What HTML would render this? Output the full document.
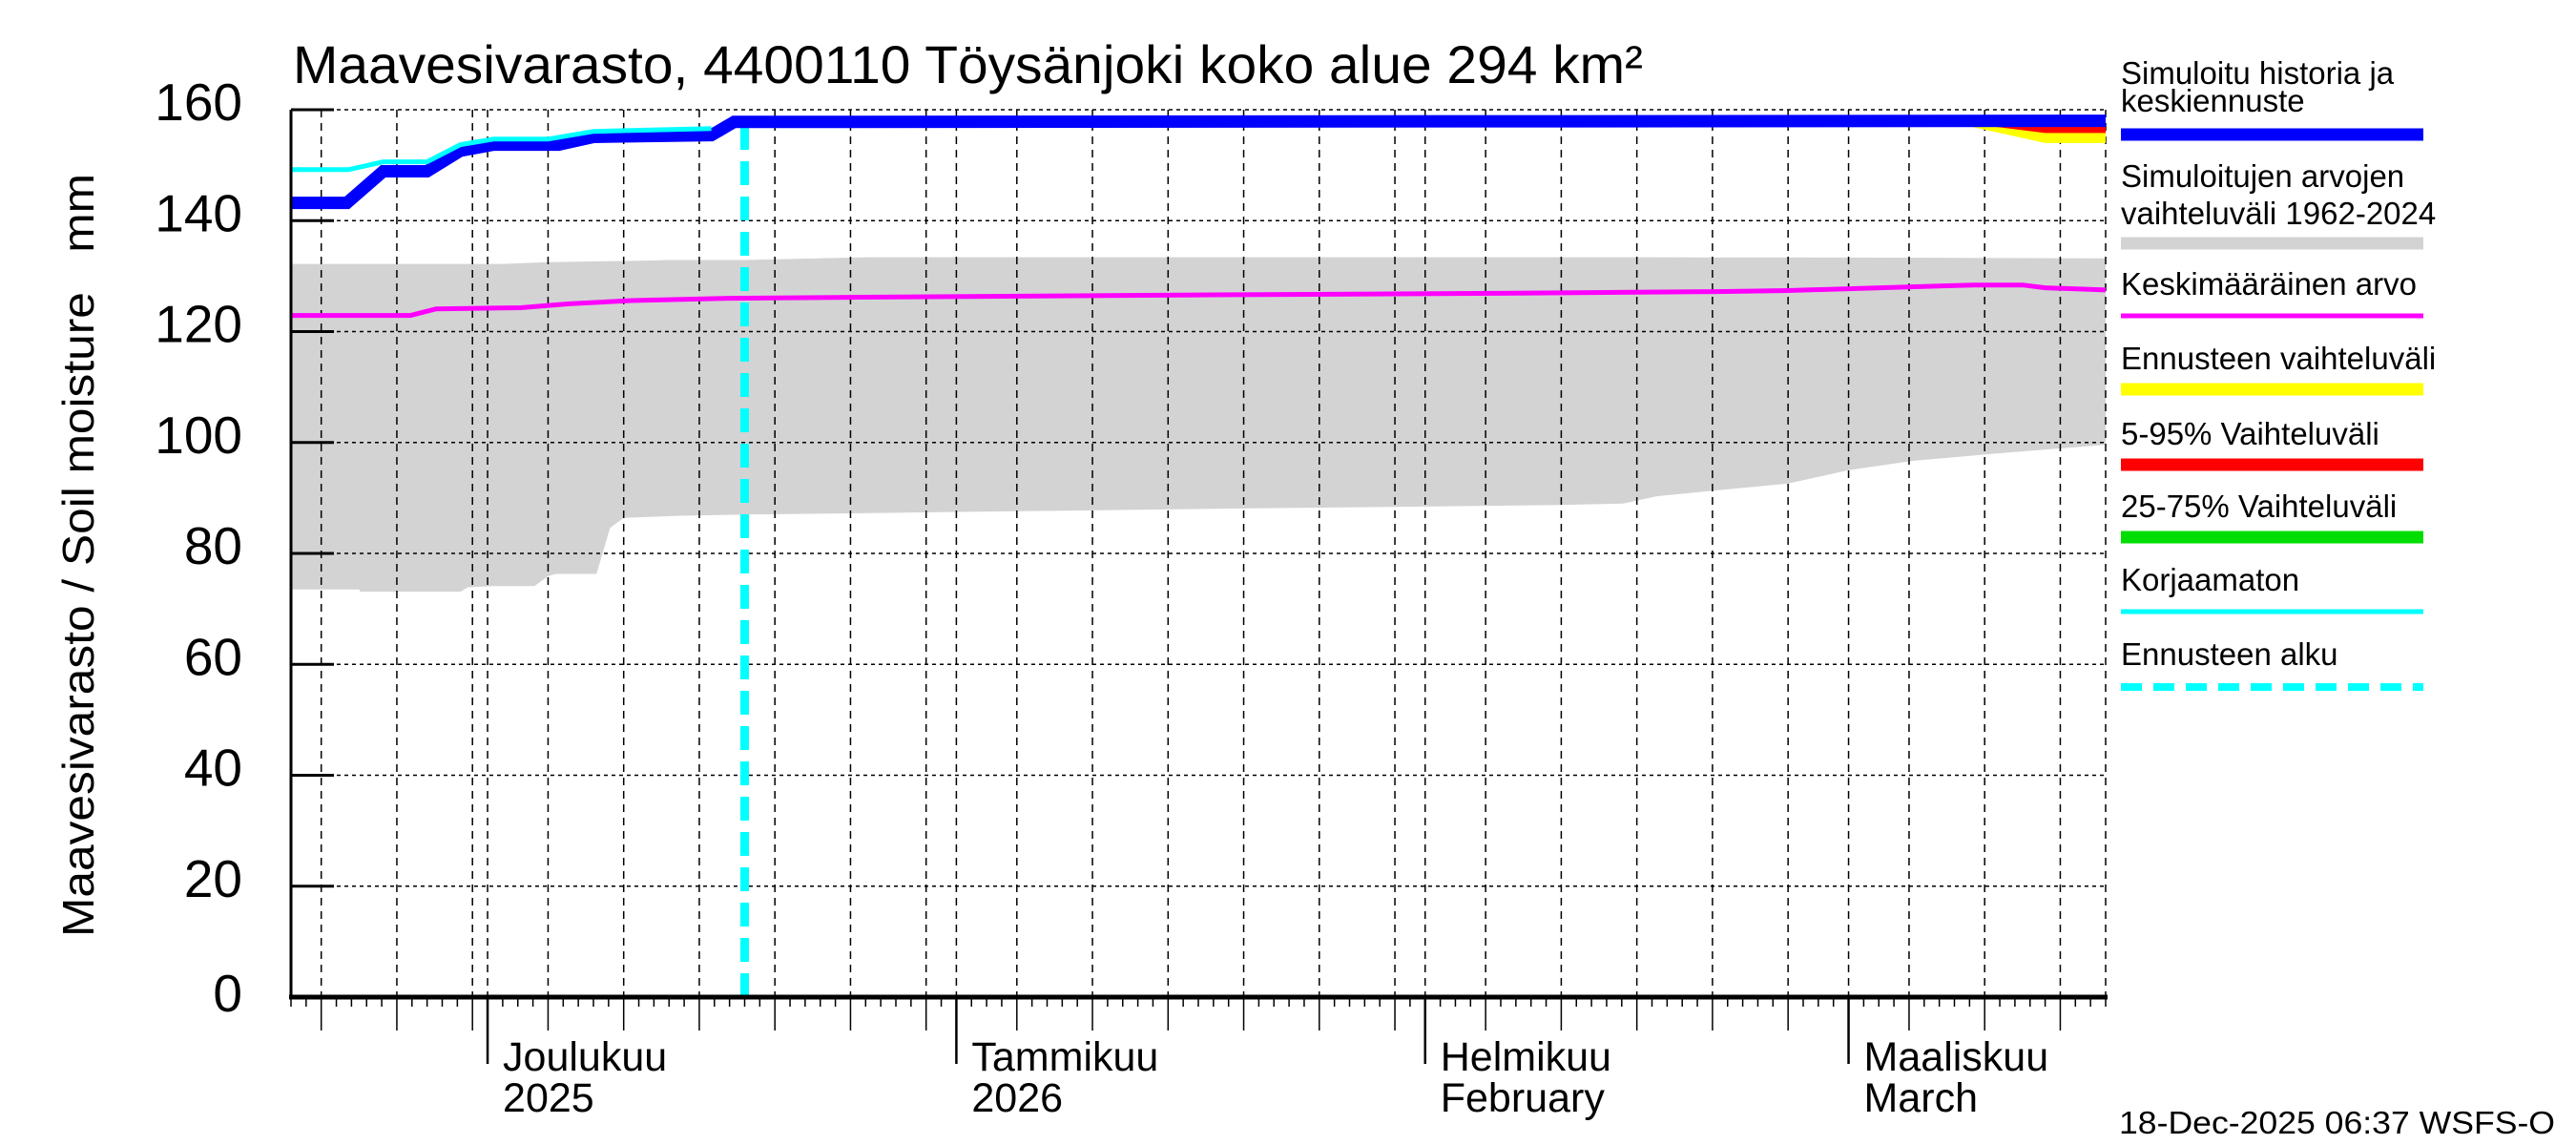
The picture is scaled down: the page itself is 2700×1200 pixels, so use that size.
<!DOCTYPE html>
<html><head><meta charset="utf-8"><style>
html,body{margin:0;padding:0;background:#fff;}
svg{display:block;font-family:"Liberation Sans",sans-serif;}
</style></head><body>
<svg id="chart" width="2700" height="1200" viewBox="0 0 2700 1200" xmlns="http://www.w3.org/2000/svg">
<rect x="0" y="0" width="2700" height="1200" fill="#fff"/>
<text x="307" y="87" font-size="56" textLength="1415" lengthAdjust="spacingAndGlyphs">Maavesivarasto, 4400110 Töysänjoki koko alue 294 km²</text>
<text transform="translate(98,582) rotate(-90)" text-anchor="middle" font-size="46" textLength="800" lengthAdjust="spacingAndGlyphs" style="white-space:pre" xml:space="preserve">Maavesivarasto / Soil moisture   mm</text>
<g id="plot"></g>
<g id="legend">
<text x="2223" y="88" font-size="33">Simuloitu historia ja</text>
<text x="2223" y="117" font-size="33">keskiennuste</text>
<line x1="2223" y1="141" x2="2540" y2="141" stroke="#0000ff" stroke-width="13"/>
<text x="2223" y="196" font-size="33">Simuloitujen arvojen</text>
<text x="2223" y="235" font-size="33">vaihteluväli 1962-2024</text>
<line x1="2223" y1="255" x2="2540" y2="255" stroke="#d3d3d3" stroke-width="13"/>
<text x="2223" y="309" font-size="33">Keskimääräinen arvo</text>
<line x1="2223" y1="331" x2="2540" y2="331" stroke="#ff00ff" stroke-width="5"/>
<text x="2223" y="387" font-size="33">Ennusteen vaihteluväli</text>
<line x1="2223" y1="408" x2="2540" y2="408" stroke="#ffff00" stroke-width="13"/>
<text x="2223" y="466" font-size="33">5-95% Vaihteluväli</text>
<line x1="2223" y1="487" x2="2540" y2="487" stroke="#ff0000" stroke-width="13"/>
<text x="2223" y="542" font-size="33">25-75% Vaihteluväli</text>
<line x1="2223" y1="563" x2="2540" y2="563" stroke="#00dd00" stroke-width="13"/>
<text x="2223" y="619" font-size="33">Korjaamaton</text>
<line x1="2223" y1="641" x2="2540" y2="641" stroke="#00ffff" stroke-width="5"/>
<text x="2223" y="697" font-size="33">Ennusteen alku</text>
<line x1="2223" y1="720" x2="2540" y2="720" stroke="#00ffff" stroke-width="8" stroke-dasharray="22,12"/>
</g>
<text x="2221" y="1188" font-size="33" textLength="457" lengthAdjust="spacingAndGlyphs">18-Dec-2025 06:37 WSFS-O</text>
</svg>
<script>
// days since 18-Nov-2025
const yTicks = [0,20,40,60,80,100,120,140,160];
const histDays = [0,3.7,6.1,9,11.2,13.4,17.7,20,27.8,29.3,120];
const histVals = [143.2,143.2,148.9,148.9,152.6,153.7,153.7,155.1,155.4,157.8,158];
const uncDays = [0,3.8,6.1,9,11.2,13.4,17,20,27.8];
const uncVals = [149.2,149.2,150.6,150.6,153.7,154.7,154.7,156.1,156.6];
const meanDays = [0,7.9,9.6,15.2,18.4,22.5,29,37.7,60,80,94.3,99,111.3,114.5,116,120];
const meanVals = [122.9,122.9,124.1,124.3,125,125.6,126,126.2,126.6,126.9,127.2,127.4,128.4,128.4,127.9,127.5];
const rangeMaxDays = [0,14,15,17,21,23.5,25,30,38,60,90,110,120];
const rangeMax = [132.2,132.2,132.3,132.5,132.7,132.8,132.9,132.9,133.4,133.4,133.4,133.3,133.2];
const rangeMinDays = [0,4.5,4.6,11.2,11.7,13.4,16.1,17,17.5,20.2,21.1,22,25.8,30,62.8,72.9,83.4,88.1,90.3,93.6,99,103,107.3,112.7,120];
const rangeMin = [73.5,73.5,73.1,73.1,73.9,74.1,74.1,75.9,76.3,76.3,84.6,86.4,86.8,87,88.1,88.4,88.7,89,90.3,91.2,92.6,95,96.7,98,99.6];
const fcDays = [29,95,99,106,109,111,116,120];
const fcMax = [158.3,158.3,158.3,158.3,158.3,158.3,158.3,158.3];
const fcYellowMin = [158,158,157,157,158,157,154,154];
const fcRedMin = [158,158,158,158,158,157.5,155.8,155.8];
const forecastStartDay = 30;
const months = [{name:"Joulukuu",sub:"2025",day:13},{name:"Tammikuu",sub:"2026",day:44},{name:"Helmikuu",sub:"February",day:75},{name:"Maaliskuu",sub:"March",day:103}];

const X0=305, X1=2207, D=120, Y0=1045, Y1=115, VMAX=160;
const xs = d => X0 + (X1-X0)*d/D;
const ys = v => Y0 - (Y0-Y1)*v/VMAX;
const NS="http://www.w3.org/2000/svg";
const plot=document.getElementById('plot');
function mk(tag,attrs,parent){const e=document.createElementNS(NS,tag);for(const k in attrs)e.setAttribute(k,attrs[k]);(parent||plot).appendChild(e);return e;}
function pts(ds,vs){return ds.map((d,i)=>xs(d).toFixed(1)+','+ys(vs[i]).toFixed(1));}

// gray range band
let band=mk('polygon',{points:pts(rangeMaxDays,rangeMax).concat(pts(rangeMinDays,rangeMin).reverse()).join(' '),fill:'#d3d3d3'});



// grid: horizontal
yTicks.forEach(v=>{ if(v===0) return;
  const g=mk('line',{x1:X0,x2:X1,y1:ys(v),y2:ys(v),stroke:'#000','stroke-width':1.5,'stroke-dasharray':'4,4'});
  
  
});
// day ticks & vertical grid
const start=new Date(2025,10,18);
for(let d=0; d<=D; d++){
  const dt=new Date(start.getTime()+d*86400000+3600000*12);
  const dom=dt.getDate();
  const x=xs(d);
  let len=10;
  if(dom===1){len=70;}
  else if(dom%5===0 && dom<=30){len=35;}
  if(dom===1 || (dom%5===0 && dom<=30)){
    const gl=mk('line',{x1:x,x2:x,y1:Y1,y2:Y0,stroke:'#000','stroke-width':1.5,'stroke-dasharray':'8,6'});
    
    
  }
  const t=mk('line',{x1:x,x2:x,y1:Y0,y2:Y0+len,stroke:'#000','stroke-width':dom===1?2.5:1.5});
  
  
}
// right border dashed
let rb=mk('line',{x1:X1,x2:X1,y1:Y1,y2:Y0,stroke:'#000','stroke-width':1.5,'stroke-dasharray':'8,6'});



// forecast bands
let yb=mk('polygon',{points:pts(fcDays,fcMax).concat(pts(fcDays,fcYellowMin).reverse()).join(' '),fill:'#ffff00'});


let rbd=mk('polygon',{points:pts(fcDays,fcMax).concat(pts(fcDays,fcRedMin).reverse()).join(' '),fill:'#ff0000'});



// mean line
let ml=mk('polyline',{points:pts(meanDays,meanVals).join(' '),fill:'none',stroke:'#ff00ff','stroke-width':5});


// forecast start
let fs=mk('line',{x1:xs(forecastStartDay),x2:xs(forecastStartDay),y1:Y0,y2:ys(157),stroke:'#00ffff','stroke-width':9,'stroke-dasharray':'25,12'});


// history line
let hl=mk('polyline',{points:pts(histDays,histVals).join(' '),fill:'none',stroke:'#0000ff','stroke-width':13});


// uncorrected line
let ul=mk('polyline',{points:pts(uncDays,uncVals).join(' '),fill:'none',stroke:'#00ffff','stroke-width':5});



// axes
let ax=mk('line',{x1:X0,x2:X0,y1:Y1,y2:Y0+2,stroke:'#000','stroke-width':3});


let bx=mk('line',{x1:X0-2,x2:X1+2,y1:Y0,y2:Y0,stroke:'#000','stroke-width':5});


yTicks.forEach(v=>{
  const t=mk('line',{x1:X0,x2:X0+45,y1:ys(v),y2:ys(v),stroke:'#000','stroke-width':3});
  
  
  const l=mk('text',{x:254,y:ys(v)+11+(v===0?4:0),'text-anchor':'end','font-size':55});
  l.textContent=v;
  
  
});
months.forEach(m=>{
  const x=xs(m.day)+16;
  const a=mk('text',{x:x,y:1122,'font-size':43});
  a.textContent=m.name;
  
  
  const b=mk('text',{x:x,y:1165,'font-size':43});
  b.textContent=m.sub;
  
  
});
</script>
</body></html>
